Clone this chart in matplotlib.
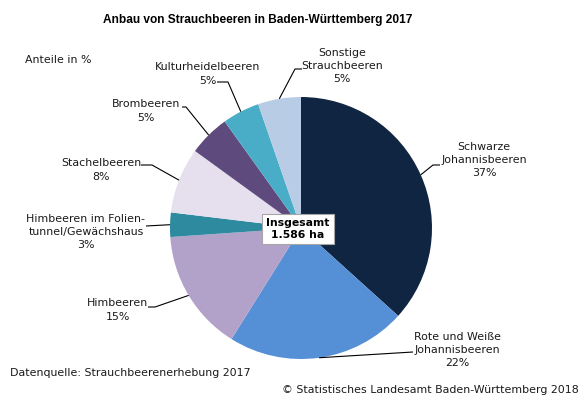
import matplotlib
matplotlib.use("Agg")
import matplotlib.pyplot as plt
import numpy as np

W, H = 581, 398

categories = ["Schwarze\nJohannisbeeren", "Rote und Weiße\nJohannisbeeren", "Himbeeren",
              "Himbeeren im Folien-\ntunnel/Gewächshaus", "Stachelbeeren", "Brombeeren",
              "Kulturheidelbeeren", "Sonstige\nStrauchbeeren"]
values = [36.7, 22.2, 15.0, 3.0, 8.1, 5.1, 4.6, 5.3]
colors = ["#0f2541", "#558fd6", "#b2a1c8", "#2e8a9f", "#e6e0ee", "#5e4a7d", "#4aadc7", "#b8cce5"]
title = "Anbau von Strauchbeeren in Baden-Württemberg 2017"
total_text = "Insgesamt\n1.586 ha"

# layout (pixel coords, y from top): label center, leader elbow, leader end at text
label_pos = [(484, 160), (457, 350), (118, 310), (86, 232), (101, 170), (146, 111), (208, 74), (342, 66)]
elbows = [(433, 165), (413, 352), (155, 307), (146, 226), (152, 165), (186, 107), (228, 82), (295, 69)]
ends = [(440, 165), (413, 352), (148, 307), (146, 226), (141, 165), (182, 107), (217, 82), (302, 69)]

cx, cy, R = 301, 228, 131

def P(x, y):
    return (x, H - y)

fig = plt.figure(figsize=(W / 100, H / 100), dpi=100)
ax = fig.add_axes([0, 0, 1, 1])
ax.set_xlim(0, W)
ax.set_ylim(0, H)
ax.axis("off")

wedges, _ = ax.pie(values, colors=colors, startangle=90, counterclock=False,
                   center=P(cx, cy), radius=R, wedgeprops=dict(linewidth=0))
ax.set_xlim(0, W)
ax.set_ylim(0, H)
ax.set_aspect("equal")

fs = 7.95
for w, cat, v, lp, el, en in zip(wedges, categories, values, label_pos, elbows, ends):
    mid = np.deg2rad((w.theta1 + w.theta2) / 2)
    ax_x = w.center[0] + R * np.cos(mid)
    ax_y = w.center[1] + R * np.sin(mid)
    ex, ey = P(*el)
    nx, ny = P(*en)
    ax.plot([ax_x, ex, nx], [ax_y, ey, ny], color="black", lw=0.8, solid_capstyle="butt")
    ax.text(*P(*lp), f"{cat}\n{round(v):d}%", ha="center", va="center", fontsize=fs,
            family="DejaVu Sans", linespacing=1.38, color="#1a1a1a")

ax.text(*P(cx - 3, cy + 1), total_text, ha="center", va="center", fontsize=7.8,
        fontweight="bold", family="DejaVu Sans", linespacing=1.25,
        bbox=dict(boxstyle="square,pad=0.4", fc="white", ec="#a6a6a6", lw=0.8))

ax.text(*P(258, 20), title, ha="center", va="center", fontsize=8.6, fontweight="bold",
        family="Liberation Sans")
ax.text(*P(25, 60), "Anteile in %", ha="left", va="center", fontsize=fs, family="DejaVu Sans",
        color="#1a1a1a")
ax.text(*P(10, 373), "Datenquelle: Strauchbeerenerhebung 2017", ha="left", va="center",
        fontsize=fs, family="DejaVu Sans", color="#1a1a1a")
ax.text(*P(579, 390), "© Statistisches Landesamt Baden-Württemberg 2018", ha="right",
        va="center", fontsize=fs, family="DejaVu Sans", color="#1a1a1a")

fig.savefig("out.png", dpi=100)
